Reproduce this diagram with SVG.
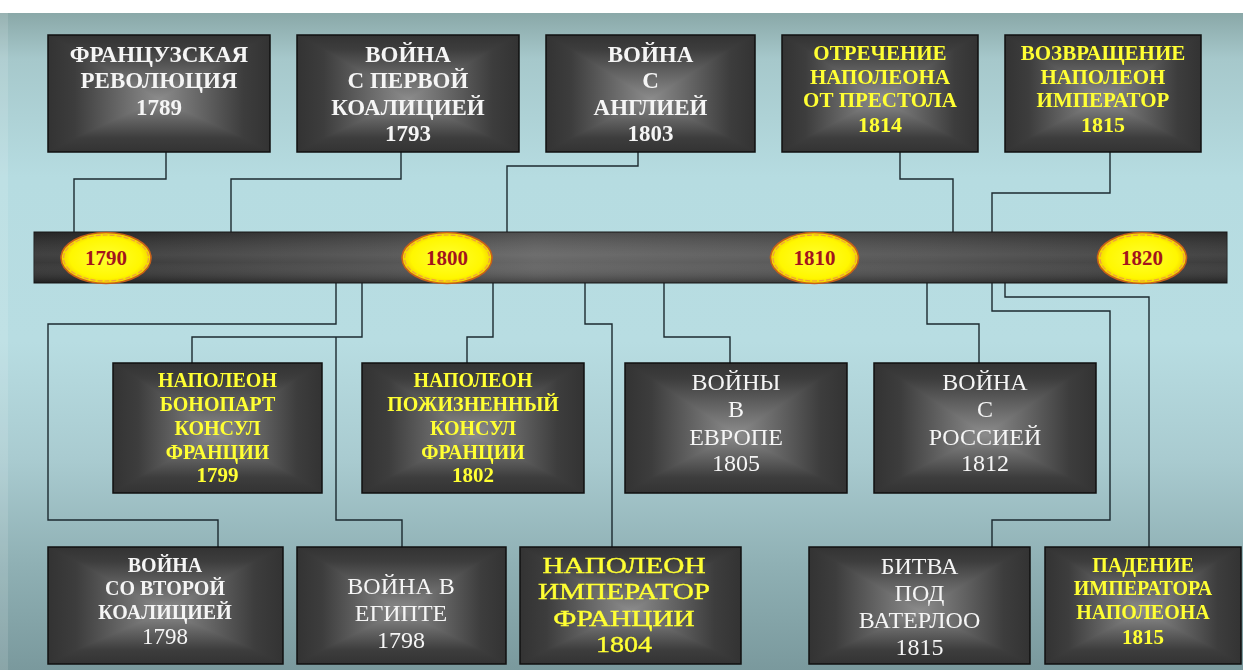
<svg xmlns="http://www.w3.org/2000/svg" width="1243" height="670" viewBox="0 0 1243 670">
<defs>
<linearGradient id="bg" x1="0" y1="0" x2="0" y2="1">
<stop offset="0" stop-color="#8aa8a8"/>
<stop offset="0.07" stop-color="#a6c8cb"/>
<stop offset="0.25" stop-color="#b6dce1"/>
<stop offset="0.5" stop-color="#b8dde2"/>
<stop offset="0.68" stop-color="#a9cbd0"/>
<stop offset="0.84" stop-color="#8fb0b4"/>
<stop offset="1" stop-color="#7a999d"/>
</linearGradient>
<linearGradient id="gh" x1="0" y1="0" x2="1" y2="0">
<stop offset="0" stop-color="#333"/>
<stop offset="0.12" stop-color="#3d3d3d"/>
<stop offset="0.5" stop-color="#8c8c8c"/>
<stop offset="0.88" stop-color="#3d3d3d"/>
<stop offset="1" stop-color="#333"/>
</linearGradient>
<linearGradient id="gv" x1="0" y1="0" x2="0" y2="1">
<stop offset="0" stop-color="#333"/>
<stop offset="0.12" stop-color="#3d3d3d"/>
<stop offset="0.55" stop-color="#8c8c8c"/>
<stop offset="0.88" stop-color="#3d3d3d"/>
<stop offset="1" stop-color="#333"/>
</linearGradient>
<linearGradient id="barh" x1="0" y1="0" x2="1" y2="0">
<stop offset="0" stop-color="#2c2c2c"/>
<stop offset="0.1" stop-color="#333"/>
<stop offset="0.3" stop-color="#4a4a4a"/>
<stop offset="0.42" stop-color="#5e5e5e"/>
<stop offset="0.55" stop-color="#555"/>
<stop offset="0.75" stop-color="#494949"/>
<stop offset="0.9" stop-color="#3a3a3a"/>
<stop offset="1" stop-color="#303030"/>
</linearGradient>
<linearGradient id="barv" x1="0" y1="0" x2="0" y2="1">
<stop offset="0" stop-color="#000" stop-opacity="0.15"/>
<stop offset="0.45" stop-color="#fff" stop-opacity="0.1"/>
<stop offset="0.6" stop-color="#fff" stop-opacity="0.06"/>
<stop offset="1" stop-color="#000" stop-opacity="0.3"/>
</linearGradient>
<radialGradient id="yel" cx="0.5" cy="0.5" r="0.5">
<stop offset="0" stop-color="#ffff30"/>
<stop offset="0.8" stop-color="#fff700"/>
<stop offset="1" stop-color="#f2d000"/>
</radialGradient>
</defs>
<style>
.box{stroke:#111;stroke-width:1.5}
.blend{mix-blend-mode:darken}
.node{isolation:isolate}
.t{font-family:"Liberation Serif","Times New Roman",serif;text-anchor:middle}
.w{fill:#f5f5f5}
.y{fill:#ffff33}
.b{font-weight:bold}
.yr-oval{stroke:#c8601a;stroke-width:1.6}
.yr-in{fill:none;stroke:#f0a040;stroke-width:1.2;stroke-dasharray:5 2}
.yr-t{fill:#a3141c;font-family:"Liberation Serif","Times New Roman",serif;font-weight:bold;font-size:21px;text-anchor:middle}
.con polyline{fill:none;stroke:#1c2a30;stroke-width:1.4}
</style>

<rect x="0" y="0" width="1243" height="670" fill="#ffffff"/>
<rect x="0" y="13" width="1243" height="657" fill="url(#bg)"/>
<rect x="0" y="13" width="8" height="657" fill="#ffffff" opacity="0.12"/>

<g id="connectors" class="con">
<polyline points="166,152 166,179 74,179 74,232"/>
<polyline points="401,152 401,179 231,179 231,232"/>
<polyline points="638,152 638,166 507,166 507,232"/>
<polyline points="900,152 900,179 953,179 953,232"/>
<polyline points="1110,152 1110,193 992,193 992,232"/>
<polyline points="336,283 336,324 48,324 48,520 218,520 218,547"/>
<polyline points="362,283 362,337 192,337 192,363"/>
<polyline points="336,337 336,520 402,520 402,547"/>
<polyline points="493,283 493,337 467,337 467,363"/>
<polyline points="585,283 585,324 612,324 612,547"/>
<polyline points="664,283 664,337 730,337 730,363"/>
<polyline points="927,283 927,324 979,324 979,363"/>
<polyline points="992,283 992,311 1110,311 1110,520 992,520 992,547"/>
<polyline points="1005,283 1005,297 1149,297 1149,547"/>
</g>

<g id="timeline">
<rect x="34" y="232" width="1193" height="51" fill="url(#barh)" stroke="#1a1a1a" stroke-width="1"/>
<rect x="34" y="232" width="1193" height="51" fill="url(#barv)"/>
<g id="y1790">
<ellipse cx="106" cy="258" rx="45" ry="25.5" fill="url(#yel)" class="yr-oval"/>
<ellipse cx="106" cy="258" rx="42.5" ry="23" class="yr-in"/>
<text x="106" y="265" class="yr-t">1790</text>
</g>
<g id="y1800">
<ellipse cx="447" cy="258" rx="45" ry="25.5" fill="url(#yel)" class="yr-oval"/>
<ellipse cx="447" cy="258" rx="42.5" ry="23" class="yr-in"/>
<text x="447" y="265" class="yr-t">1800</text>
</g>
<g id="y1810">
<ellipse cx="814.5" cy="258" rx="44" ry="25.5" fill="url(#yel)" class="yr-oval"/>
<ellipse cx="814.5" cy="258" rx="41.5" ry="23" class="yr-in"/>
<text x="814.5" y="265" class="yr-t">1810</text>
</g>
<g id="y1820">
<ellipse cx="1142" cy="258" rx="44.5" ry="25.5" fill="url(#yel)" class="yr-oval"/>
<ellipse cx="1142" cy="258" rx="42" ry="23" class="yr-in"/>
<text x="1142" y="265" class="yr-t">1820</text>
</g>
</g>

<g id="n-revolution" class="node">
<rect x="48" y="35" width="222" height="117" fill="url(#gh)"/>
<rect x="48" y="35" width="222" height="117" fill="url(#gv)" class="blend"/>
<rect x="48" y="35" width="222" height="117" fill="none" class="box"/>
<g class="t w b" font-size="23"><text x="159" y="62">ФРАНЦУЗСКАЯ</text><text x="159" y="88">РЕВОЛЮЦИЯ</text><text x="159" y="115">1789</text></g>
</g>

<g id="n-coalition1" class="node">
<rect x="297" y="35" width="222" height="117" fill="url(#gh)"/>
<rect x="297" y="35" width="222" height="117" fill="url(#gv)" class="blend"/>
<rect x="297" y="35" width="222" height="117" fill="none" class="box"/>
<g class="t w b" font-size="23"><text x="408" y="62">ВОЙНА</text><text x="408" y="88">С  ПЕРВОЙ</text><text x="408" y="115">КОАЛИЦИЕЙ</text><text x="408" y="141">1793</text></g>
</g>

<g id="n-england" class="node">
<rect x="546" y="35" width="209" height="117" fill="url(#gh)"/>
<rect x="546" y="35" width="209" height="117" fill="url(#gv)" class="blend"/>
<rect x="546" y="35" width="209" height="117" fill="none" class="box"/>
<g class="t w b" font-size="23"><text x="650.5" y="62">ВОЙНА</text><text x="650.5" y="88">С</text><text x="650.5" y="115">АНГЛИЕЙ</text><text x="650.5" y="141">1803</text></g>
</g>

<g id="n-abdication" class="node">
<rect x="782" y="35" width="196" height="117" fill="url(#gh)"/>
<rect x="782" y="35" width="196" height="117" fill="url(#gv)" class="blend"/>
<rect x="782" y="35" width="196" height="117" fill="none" class="box"/>
<g class="t y b" font-size="21"><text x="880" y="60">ОТРЕЧЕНИЕ</text><text x="880" y="83.5">НАПОЛЕОНА</text><text x="880" y="107">ОТ  ПРЕСТОЛА</text><text x="880" y="132" font-size="22">1814</text></g>
</g>

<g id="n-return" class="node">
<rect x="1005" y="35" width="196" height="117" fill="url(#gh)"/>
<rect x="1005" y="35" width="196" height="117" fill="url(#gv)" class="blend"/>
<rect x="1005" y="35" width="196" height="117" fill="none" class="box"/>
<g class="t y b" font-size="21"><text x="1103" y="60">ВОЗВРАЩЕНИЕ</text><text x="1103" y="83.5">НАПОЛЕОН</text><text x="1103" y="107">ИМПЕРАТОР</text><text x="1103" y="132" font-size="22">1815</text></g>
</g>

<g id="n-consul1799" class="node">
<rect x="113" y="363" width="209" height="130" fill="url(#gh)"/>
<rect x="113" y="363" width="209" height="130" fill="url(#gv)" class="blend"/>
<rect x="113" y="363" width="209" height="130" fill="none" class="box"/>
<g class="t y b" font-size="20"><text x="217.5" y="387">НАПОЛЕОН</text><text x="217.5" y="411">БОНОПАРТ</text><text x="217.5" y="434.5">КОНСУЛ</text><text x="217.5" y="458.5">ФРАНЦИИ</text><text x="217.5" y="482" font-size="21">1799</text></g>
</g>

<g id="n-consul1802" class="node">
<rect x="362" y="363" width="222" height="130" fill="url(#gh)"/>
<rect x="362" y="363" width="222" height="130" fill="url(#gv)" class="blend"/>
<rect x="362" y="363" width="222" height="130" fill="none" class="box"/>
<g class="t y b" font-size="20"><text x="473" y="387">НАПОЛЕОН</text><text x="473" y="411">ПОЖИЗНЕННЫЙ</text><text x="473" y="434.5">КОНСУЛ</text><text x="473" y="458.5">ФРАНЦИИ</text><text x="473" y="482" font-size="21">1802</text></g>
</g>

<g id="n-europe" class="node">
<rect x="625" y="363" width="222" height="130" fill="url(#gh)"/>
<rect x="625" y="363" width="222" height="130" fill="url(#gv)" class="blend"/>
<rect x="625" y="363" width="222" height="130" fill="none" class="box"/>
<g class="t w" font-size="24"><text x="736" y="389.5">ВОЙНЫ</text><text x="736" y="417">В</text><text x="736" y="444.5">ЕВРОПЕ</text><text x="736" y="471">1805</text></g>
</g>

<g id="n-russia" class="node">
<rect x="874" y="363" width="222" height="130" fill="url(#gh)"/>
<rect x="874" y="363" width="222" height="130" fill="url(#gv)" class="blend"/>
<rect x="874" y="363" width="222" height="130" fill="none" class="box"/>
<g class="t w" font-size="24"><text x="985" y="389.5">ВОЙНА</text><text x="985" y="417">С</text><text x="985" y="444.5">РОССИЕЙ</text><text x="985" y="471">1812</text></g>
</g>

<g id="n-coalition2" class="node">
<rect x="48" y="547" width="235" height="117" fill="url(#gh)"/>
<rect x="48" y="547" width="235" height="117" fill="url(#gv)" class="blend"/>
<rect x="48" y="547" width="235" height="117" fill="none" class="box"/>
<g class="t w b" font-size="20"><text x="165" y="572">ВОЙНА</text><text x="165" y="595">СО  ВТОРОЙ</text><text x="165" y="618.5">КОАЛИЦИЕЙ</text><text x="165" y="644" font-size="23" font-weight="normal">1798</text></g>
</g>

<g id="n-egypt" class="node">
<rect x="297" y="547" width="209" height="117" fill="url(#gh)"/>
<rect x="297" y="547" width="209" height="117" fill="url(#gv)" class="blend"/>
<rect x="297" y="547" width="209" height="117" fill="none" class="box"/>
<g class="t w" font-size="24"><text x="401" y="594">ВОЙНА В</text><text x="401" y="621">ЕГИПТЕ</text><text x="401" y="648">1798</text></g>
</g>

<g id="n-emperor" class="node">
<rect x="520" y="547" width="221" height="117" fill="url(#gh)"/>
<rect x="520" y="547" width="221" height="117" fill="url(#gv)" class="blend"/>
<rect x="520" y="547" width="221" height="117" fill="none" class="box"/>
<g transform="translate(624,0) scale(1.22,1)" class="t y" font-size="24" stroke="#ffff33" stroke-width="0.4"><text x="0" y="573">НАПОЛЕОН</text><text x="0" y="599.5">ИМПЕРАТОР</text><text x="0" y="626">ФРАНЦИИ</text><text x="0" y="652" font-size="23">1804</text></g>
</g>

<g id="n-waterloo" class="node">
<rect x="809" y="547" width="221" height="117" fill="url(#gh)"/>
<rect x="809" y="547" width="221" height="117" fill="url(#gv)" class="blend"/>
<rect x="809" y="547" width="221" height="117" fill="none" class="box"/>
<g class="t w" font-size="24"><text x="919.5" y="574">БИТВА</text><text x="919.5" y="601">ПОД</text><text x="919.5" y="628">ВАТЕРЛОО</text><text x="919.5" y="655">1815</text></g>
</g>

<g id="n-fall" class="node">
<rect x="1045" y="547" width="196" height="117" fill="url(#gh)"/>
<rect x="1045" y="547" width="196" height="117" fill="url(#gv)" class="blend"/>
<rect x="1045" y="547" width="196" height="117" fill="none" class="box"/>
<g class="t y b" font-size="20"><text x="1143" y="571.5">ПАДЕНИЕ</text><text x="1143" y="595">ИМПЕРАТОРА</text><text x="1143" y="618.5">НАПОЛЕОНА</text><text x="1143" y="643.5" font-size="21">1815</text></g>
</g>
</svg>
